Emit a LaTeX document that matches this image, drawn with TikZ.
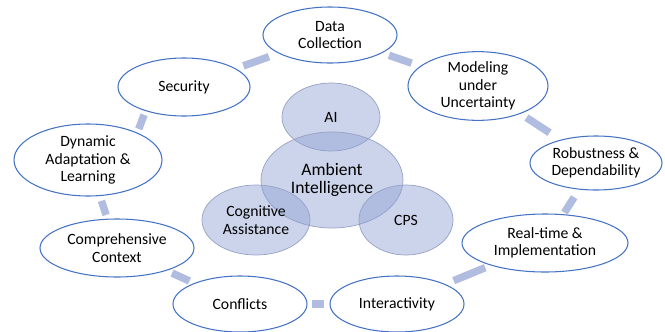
\documentclass[tikz,border=0pt]{standalone}
\usepackage{fontspec}
\setmainfont{Carlito}
\usetikzlibrary{shapes.geometric}
\definecolor{rimblue}{RGB}{68,114,196}
\definecolor{barblue}{RGB}{176,188,224}
\definecolor{coreblue}{RGB}{143,160,210}
\definecolor{coreline}{RGB}{150,160,195}
\tikzstyle{topic} = [ellipse, draw=rimblue, line width=0.9pt, fill=white, inner sep=0pt, align=center, font=\fontsize{13.4}{15}\selectfont]
\tikzstyle{core} = [ellipse, draw=coreline, line width=0.6pt, fill=coreblue, fill opacity=0.45, text opacity=1, inner sep=0pt, align=center, font=\fontsize{13.4}{15}\selectfont]
\tikzstyle{bar} = [draw=barblue, line width=6.4pt]

\begin{document}
\begin{tikzpicture}[x=0.03cm, y=-0.03cm]
\useasboundingbox (0,0) rectangle (665,331);
\node[topic, minimum width=4.02cm, minimum height=1.68cm] (data) at (330,35) {Data\\Collection};
\node[topic, minimum width=3.96cm, minimum height=1.74cm] (sec) at (184,87) {Security};
\node[topic, minimum width=4.20cm, minimum height=1.74cm] (model) at (478,86) {Modeling\\under\\Uncertainty};
\node[topic, minimum width=3.96cm, minimum height=1.62cm] (robust) at (596,163) {Robustness \&\\Dependability};
\node[topic, minimum width=4.44cm, minimum height=2.16cm] (dyn) at (88,160) {Dynamic\\Adaptation \&\\Learning};
\node[topic, minimum width=4.62cm, minimum height=1.74cm] (context) at (117,248) {Comprehensive\\Context};
\node[topic, minimum width=4.02cm, minimum height=1.68cm] (conflict) at (240,304) {Conflicts};
\node[topic, minimum width=4.02cm, minimum height=1.68cm] (interact) at (397,304) {Interactivity};
\node[topic, minimum width=4.98cm, minimum height=1.74cm] (realtime) at (545,243) {Real-time \&\\Implementation};

\draw[bar, shorten <=6.8pt, shorten >=8.5pt] (sec) -- (data);
\draw[bar, shorten <=6pt, shorten >=7.7pt] (data) -- (model);
\draw[bar, shorten <=6pt, shorten >=11pt] (model) -- (robust);
\draw[bar, shorten <=7.7pt, shorten >=1.7pt] (robust) -- (realtime);
\draw[bar, shorten <=5pt, shorten >=7.7pt] (realtime) -- (interact);
\draw[bar, shorten <=4.3pt, shorten >=3.4pt] (interact) -- (conflict);
\draw[bar, shorten <=4.3pt, shorten >=5pt] (conflict) -- (context);
\draw[bar, shorten <=3.4pt, shorten >=4.3pt] (context) -- (dyn);
\draw[bar, shorten <=3.4pt, shorten >=3.4pt] (dyn.29) -- (sec.212);

\node[core, minimum width=2.94cm, minimum height=2.04cm] (ai) at (331,117) {AI};
\node[core, minimum width=4.26cm, minimum height=2.88cm, font=\fontsize{15}{16}\selectfont] (ambient) at (332,180) {Ambient\\Intelligence};
\node[core, minimum width=3.24cm, minimum height=2.10cm] (cog) at (256,220) {Cognitive\\Assistance};
\node[core, minimum width=2.82cm, minimum height=2.10cm] (cps) at (406,220) {CPS};
\end{tikzpicture}
\end{document}
